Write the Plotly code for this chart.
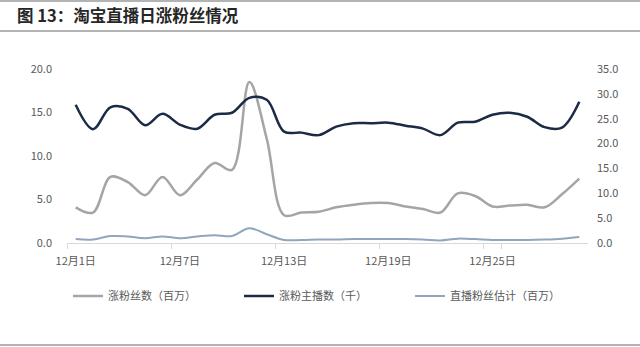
import plotly.graph_objects as go

days = [f"12月{d}日" for d in range(1, 31)]

fans_gain = [4.1, 3.5, 7.6, 7.0, 5.5, 7.6, 5.5, 7.3, 9.2, 8.4,
             18.5, 12.0, 3.2, 3.5, 3.6, 4.1, 4.4, 4.6, 4.6, 4.2,
             3.9, 3.5, 5.7, 5.4, 4.2, 4.3, 4.4, 4.1, 5.6, 7.4]
anchors_gain = [27.8, 22.9, 27.3, 27.0, 23.7, 26.0, 23.8, 23.0, 25.8, 26.2,
                29.2, 28.8, 22.4, 22.2, 21.7, 23.4, 24.1, 24.1, 24.2, 23.6,
                23.0, 21.7, 24.2, 24.4, 25.8, 26.2, 25.4, 23.3, 23.2, 28.4]
live_fans = [0.45, 0.4, 0.8, 0.75, 0.55, 0.75, 0.55, 0.75, 0.9, 0.8,
             1.7, 1.0, 0.35, 0.35, 0.4, 0.4, 0.45, 0.45, 0.45, 0.45,
             0.4, 0.3, 0.5, 0.45, 0.35, 0.35, 0.35, 0.4, 0.5, 0.7]

left_ticks = [0, 5, 10, 15, 20]
right_ticks = [0, 5, 10, 15, 20, 25, 30, 35]

names = ["涨粉丝数（百万）", "涨粉主播数（千）", "直播粉丝估计（百万）"]
colors = ["#A5A5A5", "#1B2A45", "#90A6BD"]

font_family = "Noto Sans CJK SC, Noto Sans, sans-serif"

fig = go.Figure()
fig.add_trace(go.Scatter(x=days, y=fans_gain, name=names[0], mode="lines",
                         line=dict(color=colors[0], width=2.5, shape="spline", smoothing=1)))
fig.add_trace(go.Scatter(x=days, y=anchors_gain, name=names[1], mode="lines", yaxis="y2",
                         line=dict(color=colors[1], width=2.5, shape="spline", smoothing=1)))
fig.add_trace(go.Scatter(x=days, y=live_fans, name=names[2], mode="lines",
                         line=dict(color=colors[2], width=2.0, shape="spline", smoothing=1)))

# decorative rules (paper coordinates relative to plot area)
L, R, T, B = 67, 588, 69, 243
def px_x(p):
    return (p - L) / (R - L)
def px_y(p):
    return (B - p) / (B - T)

shapes = []
for yy in [1, 31, 345]:
    shapes.append(dict(type="line", xref="paper", yref="paper",
                       x0=px_x(0), x1=px_x(640), y0=px_y(yy), y1=px_y(yy),
                       line=dict(color="#9A9A9A", width=1.5)))

fig.update_layout(
    width=640, height=347,
    margin=dict(l=L, r=640 - R, t=T, b=347 - B),
    paper_bgcolor="white", plot_bgcolor="white",
    font=dict(family=font_family, size=11, color="#595959"),
    title=dict(text="<b>图 13：淘宝直播日涨粉丝情况</b>", xref="container", yref="container",
               x=17 / 640, y=1 - 16 / 347, xanchor="left", yanchor="middle",
               font=dict(family=font_family, size=16.5, color="#262626")),
    xaxis=dict(type="category", tickmode="array", tickvals=[days[i] for i in [0, 6, 12, 18, 24]],
               ticktext=[days[i] for i in [0, 6, 12, 18, 24]], tickangle=0,
               range=[-0.5, 29.5], showgrid=False, showline=True, linecolor="#D9D9D9",
               linewidth=1, ticks="outside", ticklen=5, tickcolor="#D9D9D9",
               tickson="boundaries", zeroline=False, tickfont=dict(size=11),
               ticklabelstandoff=8),
    yaxis=dict(range=[0, 20], tickvals=left_ticks, ticktext=[f"{v:.1f}" for v in left_ticks],
               showgrid=False, zeroline=False, showline=False, ticks="",
               ticklabelstandoff=14),
    yaxis2=dict(range=[0, 35], tickvals=right_ticks, ticktext=[f"{v:.1f}" for v in right_ticks],
                overlaying="y", side="right", showgrid=False, zeroline=False, showline=False,
                ticks="", ticklabelstandoff=8),
    legend=dict(orientation="h", x=px_x(68), y=px_y(296), xanchor="left", yanchor="middle",
                font=dict(size=11, color="#595959"), itemwidth=30,
                entrywidth=126, entrywidthmode="pixels", bgcolor="rgba(0,0,0,0)"),
    shapes=shapes,
)

fig.write_html("out.html")
